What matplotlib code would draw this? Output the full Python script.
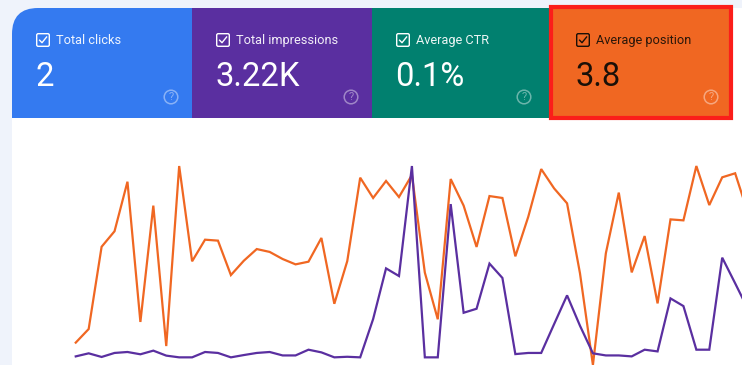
import matplotlib
matplotlib.use('Agg')
import matplotlib.pyplot as plt
from matplotlib.patches import Rectangle, PathPatch, Circle, FancyBboxPatch
from matplotlib.path import Path

plt.rcParams['font.family'] = ['Roboto', 'DejaVu Sans']

# значения читаем с картинки, шкала 0-100
position = [7.7, 14.8, 57.8, 65.9, 91.8, 18.5, 79.3, 5.9, 100, 50.2, 61.5, 61.0, 43.0,
            50.5, 56.6, 55.1, 51.4, 48.6, 50.0, 62.4, 28.0, 50.3, 93.9, 83.3, 92.2, 83.8,
            95.3, 44.3, 19.9, 93.2, 79.3, 57.7, 84.3, 83.3, 52.8, 73.5, 98.4, 88.3, 80.5,
            43.9, -4.0, 54.4, 86.1, 44.4, 63.4, 28.2, 72.1, 71.6, 100, 79.6, 94.1, 96.2, 75.3]
impressions = [0.5, 2.1, 0.2, 2.3, 2.8, 1.6, 3.5, 0.9, 0, 0, 2.8, 2.3, 0, 1.2, 2.3, 2.8, 1.0,
               1.0, 4.0, 2.6, 0, 0.3, 0, 20.0, 46.5, 42.5, 100, 0, 0, 80.1, 23.3, 25.4, 49.0,
               41.5, 1.7, 2.3, 2.3, 17.4, 32.4, 16.5, 2.1, 1.0, 1.0, 0.5, 4.0, 3.1, 30.8, 26.8,
               4.0, 4.0, 52.1, 38.7, 25.1]

labels = ['Total clicks', 'Total impressions', 'Average CTR', 'Average position']
totals = ['2', '3.22K', '0.1%', '3.8']
tile_colors = ['#347af0', '#5a2fa0', '#01806f', '#f06722']
tile_edges = [12, 192, 372, 549, 732]
text_colors = ['white', 'white', 'white', '#1a1008']

W, H = 742, 365
fig = plt.figure(figsize=(W / 100, H / 100), dpi=100, facecolor='#eff3fb')

# график
ax = fig.add_axes([12 / W, 0, (W - 12) / W, (H - 118) / H])
ax.set_xlim(-4.93, 51.53)
ax.set_ylim(-4.0, 125.1)
days = range(len(position))
ax.plot(days, position, color='#f06722', lw=1.6, solid_joinstyle='miter')
ax.plot(days, impressions, color='#5a2fa0', lw=1.6, solid_joinstyle='miter')
ax.axis('off')
ax.add_patch(Rectangle((0, 0), 1, 1, transform=ax.transAxes, color='white', zorder=0))

# плитки сверху, координаты в пикселях
top = fig.add_axes([0, 0, 1, 1])
top.set_xlim(0, W)
top.set_ylim(H, 0)
top.axis('off')
top.patch.set_alpha(0)

top.add_patch(Rectangle((732, 8), 10, 110, color='white', lw=0))

for i in range(4):
    x0, x1 = tile_edges[i], tile_edges[i + 1]
    if i == 0:
        r = 26
        verts = [(x0, 118), (x0, 8 + r), (x0, 8), (x0 + r, 8), (x1, 8), (x1, 118), (x0, 118)]
        codes = [Path.MOVETO, Path.LINETO, Path.CURVE3, Path.CURVE3, Path.LINETO, Path.LINETO, Path.CLOSEPOLY]
        top.add_patch(PathPatch(Path(verts, codes), fc=tile_colors[i], lw=0))
    else:
        top.add_patch(Rectangle((x0, 8), x1 - x0, 110, fc=tile_colors[i], lw=0))

    c = text_colors[i]
    tx = x0 + 24
    if i == 3:
        tx = x0 + 27
    top.add_patch(FancyBboxPatch((tx + 0.7, 33.7), 12.6, 12.6, boxstyle='round,pad=0,rounding_size=1.5',
                                 fc='none', ec=c, lw=1.0))
    top.plot([tx + 3.6, tx + 6, tx + 10.6], [40.2, 42.7, 37], color=c, lw=1.0)
    top.text(tx + 20.5, 40.3, labels[i], color=c, fontsize=9.15, va='center', ha='left', alpha=0.92)
    top.text(tx - 0.5, 76.5, totals[i], color=c, fontsize=23.6, va='center', ha='left')

    hx = x0 + 159 if i < 2 else (x0 + 152 if i == 2 else x0 + 162)
    hc = 'white'
    top.add_patch(Circle((hx, 97), 6.8, fc='none', ec=hc, lw=1.1, alpha=0.42))
    top.text(hx, 97.3, '?', color=hc, fontsize=8, va='center', ha='center', alpha=0.42)

# красная рамка вокруг последней плитки
top.add_patch(Rectangle((551, 7), 180, 111, fc='none', ec='#fb1e1a', lw=3.0))

plt.savefig('out.png', dpi=100, facecolor=fig.get_facecolor())
plt.close()
